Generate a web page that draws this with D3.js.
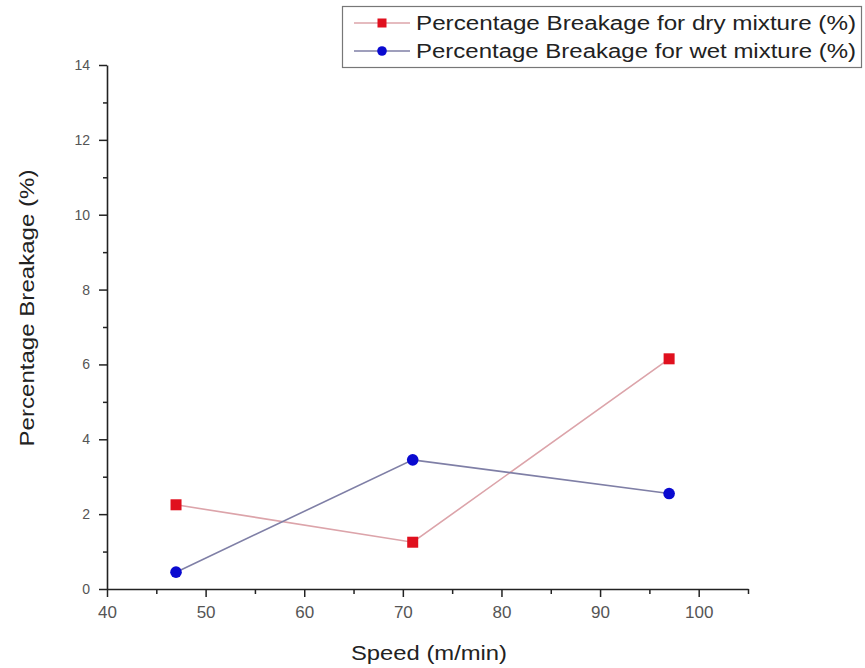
<!DOCTYPE html>
<html>
<head>
<meta charset="utf-8">
<script src="https://cdn.jsdelivr.net/npm/d3@7"></script>
<style>
  html, body { margin: 0; padding: 0; background: #fff; }
  svg { display: block; }
</style>
</head>
<body>
<svg id="chart" width="865" height="668"></svg>
<script>
// ---- data ----
const speeds = [47, 71, 97];
const dryValues = [2.25, 1.25, 6.15];
const wetValues = [0.45, 3.45, 2.55];
const seriesNames = ["Percentage Breakage for dry mixture (%)", "Percentage Breakage for wet mixture (%)"];
const xTicks = [40, 50, 60, 70, 80, 90, 100];
const xMinorTicks = [45, 55, 65, 75, 85, 95, 105];
const yTicks = [0, 2, 4, 6, 8, 10, 12, 14];
const yMinorTicks = [1, 3, 5, 7, 9, 11, 13];
const xTitle = "Speed (m/min)";
const yTitle = "Percentage Breakage (%)";

const svg = d3.select("#chart");
const font = "'Liberation Sans', Arial, sans-serif";

const x = d3.scaleLinear().domain([40, 105]).range([107, 748]);
const y = d3.scaleLinear().domain([0, 14]).range([589, 65]);

// minor ticks
svg.append("g").attr("transform", "translate(0,589)")
  .call(d3.axisBottom(x).tickValues(xMinorTicks).tickSize(5).tickSizeOuter(0).tickFormat(""))
  .call(g => g.select(".domain").remove())
  .call(g => g.selectAll("line").attr("stroke", "#222").attr("stroke-width", 1.5));
svg.append("g").attr("transform", "translate(107,0)")
  .call(d3.axisLeft(y).tickValues(yMinorTicks).tickSize(4).tickSizeOuter(0).tickFormat(""))
  .call(g => g.select(".domain").remove())
  .call(g => g.selectAll("line").attr("stroke", "#222").attr("stroke-width", 1.5));

// major axes
const xAxis = svg.append("g").attr("transform", "translate(0,589)")
  .call(d3.axisBottom(x).tickValues(xTicks).tickSize(8).tickSizeOuter(0).tickPadding(9));
xAxis.select(".domain").attr("stroke", "#222").attr("stroke-width", 1.6);
xAxis.selectAll("line").attr("stroke", "#222").attr("stroke-width", 1.5);
xAxis.selectAll("text").attr("font-family", font).attr("font-size", 17).attr("fill", "#555");

const yAxis = svg.append("g").attr("transform", "translate(107,0)")
  .call(d3.axisLeft(y).tickValues(yTicks).tickSize(8).tickSizeOuter(0).tickPadding(9));
yAxis.select(".domain").attr("stroke", "#222").attr("stroke-width", 1.6);
yAxis.selectAll("line").attr("stroke", "#222").attr("stroke-width", 1.5);
yAxis.selectAll("text").attr("font-family", font).attr("font-size", 14).attr("fill", "#555");

// axis titles
svg.append("text").attr("x", 429).attr("y", 660).attr("text-anchor", "middle")
  .attr("font-family", font).attr("font-size", 20).attr("fill", "#222")
  .attr("textLength", 156).attr("lengthAdjust", "spacingAndGlyphs").text(xTitle);
svg.append("text").attr("transform", "translate(34,308) rotate(-90)").attr("text-anchor", "middle")
  .attr("font-family", font).attr("font-size", 20).attr("fill", "#222")
  .attr("textLength", 277).attr("lengthAdjust", "spacingAndGlyphs").text(yTitle);

// lines
const dry = speeds.map((s, i) => [s, dryValues[i]]);
const wet = speeds.map((s, i) => [s, wetValues[i]]);
const line = d3.line().x(d => x(d[0])).y(d => y(d[1]));
svg.append("path").datum(dry).attr("d", line).attr("fill", "none").attr("stroke", "#dca4aa").attr("stroke-width", 1.6);
svg.append("path").datum(wet).attr("d", line).attr("fill", "none").attr("stroke", "#7f7fa6").attr("stroke-width", 1.6);

// markers
const sq = 11;
svg.selectAll(".dry").data(dry).enter().append("rect")
  .attr("x", d => x(d[0]) - sq / 2).attr("y", d => y(d[1]) - sq / 2)
  .attr("width", sq).attr("height", sq).attr("fill", "#e0101e");
svg.selectAll(".wet").data(wet).enter().append("circle")
  .attr("cx", d => x(d[0])).attr("cy", d => y(d[1])).attr("r", 5.8).attr("fill", "#0a0ad0");

// legend
const lg = svg.append("g");
lg.append("rect").attr("x", 342.5).attr("y", 6.5).attr("width", 519).attr("height", 61)
  .attr("fill", "#fff").attr("stroke", "#777").attr("stroke-width", 1.2);
const rows = [{ name: seriesNames[0], color: "#dca4aa", fill: "#e0101e", shape: "sq", yy: 23 },
              { name: seriesNames[1], color: "#7f7fa6", fill: "#0a0ad0", shape: "c", yy: 51 }];
rows.forEach(r => {
  lg.append("line").attr("x1", 354).attr("x2", 410).attr("y1", r.yy).attr("y2", r.yy)
    .attr("stroke", r.color).attr("stroke-width", 1.5);
  if (r.shape === "sq") {
    lg.append("rect").attr("x", 382 - 4.5).attr("y", r.yy - 4.5).attr("width", 9).attr("height", 9).attr("fill", r.fill);
  } else {
    lg.append("circle").attr("cx", 382).attr("cy", r.yy).attr("r", 4.8).attr("fill", r.fill);
  }
  lg.append("text").attr("x", 416).attr("y", r.yy + 7).attr("font-family", font).attr("font-size", 20)
    .attr("fill", "#222").attr("textLength", 440).attr("lengthAdjust", "spacingAndGlyphs").text(r.name);
});
</script>
</body>
</html>
